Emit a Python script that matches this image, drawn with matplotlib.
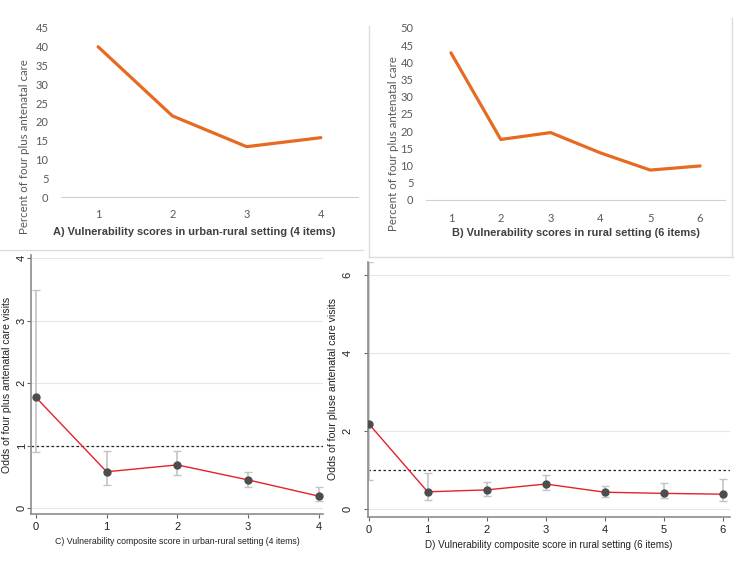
#/usr/bin/env python

#%% Preamble
import numpy as np
import matplotlib
matplotlib.use('Agg')
import matplotlib.pyplot as plt
from matplotlib.lines import Line2D

#%% Data
# A) percent with 4+ ANC visits, urban-rural score (4 items)
a_scores = [1, 2, 3, 4]
a_pct = [40.0, 21.6, 13.4, 15.8]

# B) percent with 4+ ANC visits, rural score (6 items)
b_scores = [1, 2, 3, 4, 5, 6]
b_pct = [42.8, 17.6, 19.6, 13.7, 8.7, 9.9]

# C) odds, urban-rural composite score
c_scores = [0, 1, 2, 3, 4]
c_odds = [1.77, 0.58, 0.69, 0.45, 0.19]
c_lo = [0.90, 0.37, 0.53, 0.34, 0.12]
c_hi = [3.49, 0.92, 0.91, 0.58, 0.33]

# D) odds, rural composite score
d_scores = [0, 1, 2, 3, 4, 5, 6]
d_odds = [2.19, 0.44, 0.49, 0.64, 0.43, 0.40, 0.38]
d_lo = [0.74, 0.23, 0.33, 0.49, 0.30, 0.27, 0.20]
d_hi = [6.33, 0.91, 0.70, 0.87, 0.60, 0.66, 0.77]

#%% Figure helpers
W, H = 735, 568
fig = plt.figure(figsize=(W / 100, H / 100), dpi=100)

def box(x0, y0, x1, y1):
    # pixel box (top-left origin) -> figure fraction
    return [x0 / W, 1 - y1 / H, (x1 - x0) / W, (y1 - y0) / H]

def fx(x):
    return x / W

def fy(y):
    return 1 - y / H

orange = '#e66b21'
excel_font = ['Lato', 'DejaVu Sans']
arial = ['Liberation Sans', 'DejaVu Sans']

#%% Excel-style panels (A, B)
def excel_panel(rect, xs, ys, ymax, xlabel, lab_xy, xlab_xy):
    ax = fig.add_axes(rect)
    ax.plot(xs, ys, color=orange, lw=2.3, solid_capstyle='round')
    ax.set_xlim(0.5, len(xs) + 0.5)
    ax.set_ylim(0, ymax)
    ax.set_yticks(np.arange(0, ymax + 1, 5))
    ax.set_xticks(xs)
    for s in ['top', 'right', 'left']:
        ax.spines[s].set_visible(False)
    ax.spines['bottom'].set_color('#d0d0d0')
    ax.tick_params(length=0, labelsize=8, labelcolor='#595959', pad=9)
    for t in ax.get_xticklabels() + ax.get_yticklabels():
        t.set_fontfamily(excel_font)
    ax.set_ylabel('Percent of four plus antenatal care', fontsize=8.3,
                  color='#595959', family=excel_font)
    ax.yaxis.set_label_coords(*lab_xy)
    ax.set_xlabel(xlabel, fontsize=7.9, fontweight='bold', color='#404040',
                  family=arial)
    ax.xaxis.set_label_coords(*xlab_xy)
    return ax

excel_panel(box(61, 28, 358, 197), a_scores, a_pct, 45,
            'A) Vulnerability scores in urban-rural setting (4 items)',
            (-0.104, 0.3), (0.448, -0.178))
excel_panel(box(426, 28, 725, 200), b_scores, b_pct, 50,
            'B) Vulnerability scores in rural setting (6 items)',
            (-0.09, 0.33), (0.5, -0.161))

#%% Stata-style panels (C, D)
def stata_panel(rect, xs, ys, lo, hi, xlim, ylim, yticks, ylabel, lab_x,
                xlabel, xl_size, ypad):
    ax = fig.add_axes(rect)
    for t in yticks:
        ax.axhline(t, color='#e6e6e6', lw=0.8, zorder=0)
    ax.axhline(1, color='#222222', lw=0.9, ls=(0, (2, 2)), zorder=1)
    ys = np.array(ys)
    err = [ys - np.array(lo), np.array(hi) - ys]
    ax.errorbar(xs, ys, yerr=err, fmt='none', ecolor='#c4c4c4', elinewidth=1.2,
                capsize=3, capthick=1, zorder=2)
    ax.plot(xs, ys, color='#e8202a', lw=1.0, zorder=3)
    ax.plot(xs, ys, 'o', color='#4d4d4d', ms=5, zorder=4)
    ax.set_xlim(*xlim)
    ax.set_ylim(*ylim)
    ax.set_xticks(xs)
    ax.set_yticks(yticks)
    for s in ['top', 'right']:
        ax.spines[s].set_visible(False)
    for s in ['left', 'bottom']:
        ax.spines[s].set_color('#8c8c8c')
        ax.spines[s].set_linewidth(1.2)
    ax.tick_params(length=3, color='#666666', labelsize=8, labelcolor='#222222', pad=3)
    ax.tick_params(axis='y', pad=ypad)
    for t in ax.get_yticklabels():
        t.set_rotation(90)
        t.set_va('center')
        t.set_fontfamily(arial)
    for t in ax.get_xticklabels():
        t.set_fontfamily(arial)
    ax.set_ylabel(ylabel, fontsize=7.6, family=arial, color='#222222')
    ax.yaxis.set_label_coords(lab_x, 0.5)
    ax.set_xlabel(xlabel, fontsize=xl_size, family=arial, color='#222222', labelpad=3)
    return ax

stata_panel(box(31, 255, 323, 514), c_scores, c_odds, c_lo, c_hi,
            (-0.07, 4.06), (-0.096, 4.05), [0, 1, 2, 3, 4],
            'Odds of four plus antenatal care visits', -0.064,
            'C) Vulnerability composite score in urban-rural setting (4 items)', 6.3, 0)
stata_panel(box(368, 262, 730, 517), d_scores, d_odds, d_lo, d_hi,
            (-0.01, 6.12), (-0.205, 6.33), [0, 2, 4, 6],
            'Odds of four pluse antenatal care visits', -0.083,
            'D) Vulnerability composite score in rural setting (6 items)', 7.1, 8)

#%% Faint collage borders
edge = '#dcdcdc'
fig.add_artist(Line2D([fx(369), fx(369)], [fy(26), fy(257)], color=edge, lw=1))
fig.add_artist(Line2D([fx(0), fx(363)], [fy(250), fy(250)], color=edge, lw=1))
fig.add_artist(Line2D([fx(369), fx(733)], [fy(257), fy(257)], color=edge, lw=1))
fig.add_artist(Line2D([fx(732), fx(732)], [fy(18), fy(257)], color=edge, lw=1))

fig.savefig('out.png', dpi=100)
